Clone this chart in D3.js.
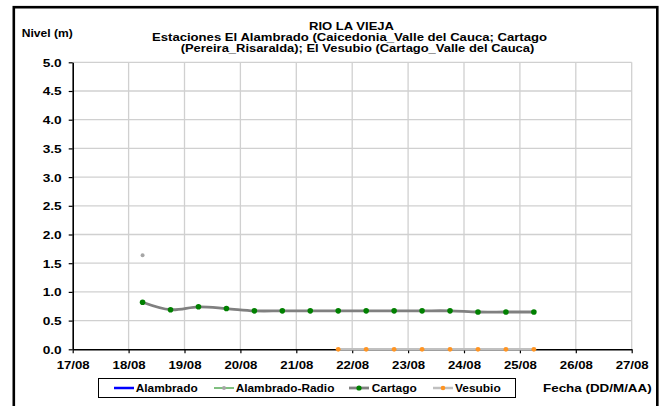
<!DOCTYPE html>
<html><head><meta charset="utf-8">
<script src="https://cdn.jsdelivr.net/npm/d3@7"></script>
<style>
html,body{margin:0;padding:0;background:#fff;}
svg{display:block;font-family:"Liberation Sans",Arial,sans-serif;font-weight:bold;}
</style></head>
<body><svg id="c" width="664" height="406"></svg>
<script>
// ---- data ----
const titleLines = ["RIO LA VIEJA",
  "Estaciones El Alambrado (Caicedonia_Valle del Cauca; Cartago",
  "(Pereira_Risaralda);  El Vesubio (Cartago_Valle del Cauca)"];
const yTitle = "Nivel (m)";
const xTitle = "Fecha (DD/M/AA)";
const seriesNames = ["Alambrado", "Alambrado-Radio", "Cartago", "Vesubio"];
const cartagoTimes = ["2011-08-18 06","2011-08-18 18","2011-08-19 06","2011-08-19 18","2011-08-20 06",
  "2011-08-20 18","2011-08-21 06","2011-08-21 18","2011-08-22 06","2011-08-22 18",
  "2011-08-23 06","2011-08-23 18","2011-08-24 06","2011-08-24 18","2011-08-25 06"];
const cartagoValues = [0.82,0.69,0.74,0.71,0.67,0.67,0.67,0.67,0.67,0.67,0.67,0.67,0.65,0.65,0.65];
const radioTimes = ["2011-08-18 06"];
const radioValues = [1.64];
const vesubioTimes = ["2011-08-21 18","2011-08-22 06","2011-08-22 18","2011-08-23 06",
  "2011-08-23 18","2011-08-24 06","2011-08-24 18","2011-08-25 06"];
const vesubioValues = [0,0,0,0,0,0,0,0];
const alambradoTimes = [];
const alambradoValues = [];
const xDomain = ["2011-08-17 00","2011-08-27 00"];
const yTicks = [0,0.5,1,1.5,2,2.5,3,3.5,4,4.5,5];

// ---- drawing ----
const FS = 11;
const parse = d3.utcParse("%Y-%m-%d %H");
const svg = d3.select("#c");
const L = 72.7, R = 631.7, T = 62.3, B = 349.3;
const x = d3.scaleUtc().domain(xDomain.map(parse)).range([L, R]);
const y = d3.scaleLinear().domain([0, 5]).range([B, T]);

// outer frame
svg.append("rect").attr("x",13.8).attr("y",7.2).attr("width",643.5).attr("height",420)
  .attr("fill","none").attr("stroke","#000").attr("stroke-width",2.6);

// gridlines
const xt = x.ticks(d3.utcDay.every(1));
const grid = svg.append("g").attr("stroke","#d0d0d0").attr("stroke-width",1.3);
grid.selectAll("line.v").data(xt.slice(1)).join("line")
  .attr("x1",d=>x(d)).attr("x2",d=>x(d)).attr("y1",T).attr("y2",B);
grid.selectAll("line.h").data(yTicks.slice(1)).join("line")
  .attr("x1",L).attr("x2",R).attr("y1",d=>y(d)).attr("y2",d=>y(d));

// axes
const ax = svg.append("g").attr("transform",`translate(0,${B})`)
  .call(d3.axisBottom(x).tickValues(xt).tickFormat(d3.utcFormat("%d/%m")).tickSizeInner(4).tickSizeOuter(0).tickPadding(9));
const ay = svg.append("g").attr("transform",`translate(${L},0)`)
  .call(d3.axisLeft(y).tickValues(yTicks).tickFormat(d3.format(".1f")).tickSizeInner(4).tickSizeOuter(0).tickPadding(7));
[ax,ay].forEach(g=>{
  g.select(".domain").attr("stroke","#000").attr("stroke-width",1.6);
  g.selectAll(".tick line").attr("stroke","#000").attr("stroke-width",1.2);
  g.selectAll("text").attr("font-family",'"Liberation Sans",Arial,sans-serif')
    .attr("font-weight","bold").attr("font-size",FS).attr("fill","#000")
    .attr("lengthAdjust","spacingAndGlyphs");
});
ax.selectAll("text").attr("textLength",33).attr("dy",null).attr("y",20);
ay.selectAll("text").attr("textLength",19).attr("dy","0.36em").attr("x",-11);

// series
const line = d3.line().x(d=>x(d[0])).y(d=>y(d[1])).curve(d3.curveCatmullRom.alpha(0.5));
const zipS = (t,v)=>t.map((d,i)=>[parse(d),v[i]]);
const cart = zipS(cartagoTimes,cartagoValues);
const ves = zipS(vesubioTimes,vesubioValues);
const rad = zipS(radioTimes,radioValues);
const alam = zipS(alambradoTimes,alambradoValues);
svg.append("path").datum(alam).attr("d",line).attr("fill","none").attr("stroke","#0000ff").attr("stroke-width",2.5);
svg.append("path").datum(rad).attr("d",line).attr("fill","none").attr("stroke","#008000").attr("stroke-width",1);
svg.append("path").datum(ves).attr("d",line).attr("fill","none").attr("stroke","#c0c0c0").attr("stroke-width",2.5);
svg.append("path").datum(cart).attr("d",line).attr("fill","none").attr("stroke","#808080").attr("stroke-width",2.8);
svg.selectAll("circle.r").data(rad).join("circle").attr("cx",d=>x(d[0])).attr("cy",d=>y(d[1])).attr("r",2).attr("fill","#a6a6a6");
svg.selectAll("circle.v").data(ves).join("circle").attr("cx",d=>x(d[0])).attr("cy",d=>y(d[1])).attr("r",2.4).attr("fill","#ff9422");
svg.selectAll("circle.c").data(cart).join("circle").attr("cx",d=>x(d[0])).attr("cy",d=>y(d[1])).attr("r",2.8).attr("fill","#008000");

// texts
function txt(s, xx, yy, w, anchor){
  return svg.append("text").attr("x",xx).attr("y",yy).attr("font-size",FS)
    .attr("text-anchor",anchor||"start").attr("textLength",w).attr("lengthAdjust","spacingAndGlyphs")
    .attr("fill","#000").text(s);
}
txt(titleLines[0], 309, 29.5, 85);
txt(titleLines[1], 152, 41, 395);
txt(titleLines[2], 180.7, 52.3, 353.6);
txt(yTitle, 21.7, 36.7, 51);
txt(xTitle, 543, 391.7, 108.7);

// legend
svg.append("rect").attr("x",98.5).attr("y",378.5).attr("width",417).attr("height",19)
  .attr("fill","#fff").attr("stroke","#000").attr("stroke-width",1);
const leg = [
  {lx:114, tx:135.7, w:62, stroke:"#0000ff", sw:2.5, dot:null, r:0},
  {lx:214, tx:235.7, w:98.7, stroke:"#008000", sw:1, dot:"#a6a6a6", r:2},
  {lx:349, tx:371.7, w:45, stroke:"#808080", sw:2.8, dot:"#008000", r:2.6},
  {lx:433, tx:455, w:45.7, stroke:"#c0c0c0", sw:2.5, dot:"#ff9422", r:2.3}
];
const ly = 388;
leg.forEach((o,i)=>{
  svg.append("line").attr("x1",o.lx).attr("x2",o.lx+20).attr("y1",ly).attr("y2",ly)
    .attr("stroke",o.stroke).attr("stroke-width",o.sw);
  if(o.dot) svg.append("circle").attr("cx",o.lx+10).attr("cy",ly).attr("r",o.r).attr("fill",o.dot);
  txt(seriesNames[i], o.tx, 392.3, o.w);
});
</script></body></html>
